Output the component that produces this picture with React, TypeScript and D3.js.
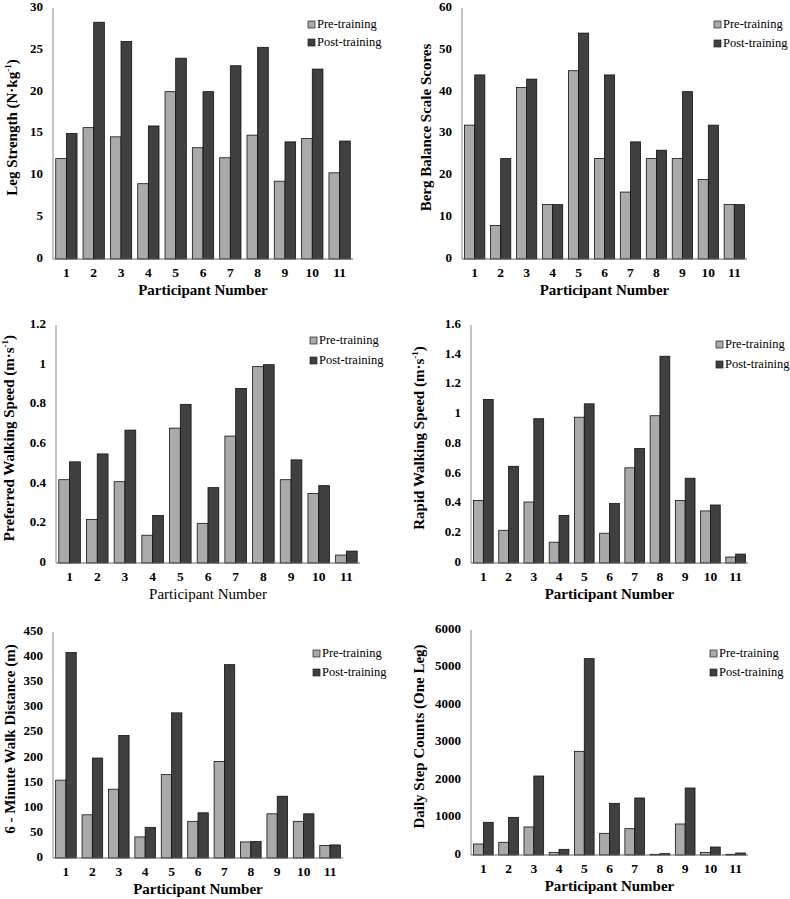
import React, { useRef, useEffect } from "react";
import * as d3 from "d3";

const participants = ["1", "2", "3", "4", "5", "6", "7", "8", "9", "10", "11"];
const seriesNames = ["Pre-training", "Post-training"];

const legPre = [12, 15.7, 14.6, 9, 20, 13.3, 12.1, 14.8, 9.3, 14.4, 10.3];
const legPost = [15, 28.3, 26, 15.9, 24, 20, 23.1, 25.3, 14, 22.7, 14.1];

const bergPre = [32, 8, 41, 13, 45, 24, 16, 24, 24, 19, 13];
const bergPost = [44, 24, 43, 13, 54, 44, 28, 26, 40, 32, 13];

const prefPre = [0.42, 0.22, 0.41, 0.14, 0.68, 0.2, 0.64, 0.99, 0.42, 0.35, 0.04];
const prefPost = [0.51, 0.55, 0.67, 0.24, 0.8, 0.38, 0.88, 1.0, 0.52, 0.39, 0.06];

const rapidPre = [0.42, 0.22, 0.41, 0.14, 0.98, 0.2, 0.64, 0.99, 0.42, 0.35, 0.04];
const rapidPost = [1.1, 0.65, 0.97, 0.32, 1.07, 0.4, 0.77, 1.39, 0.57, 0.39, 0.06];

const walkPre = [155, 86, 137, 42, 166, 73, 192, 32, 88, 73, 25];
const walkPost = [409, 199, 244, 61, 289, 90, 385, 33, 123, 88, 26];

const stepsPre = [293, 338, 747, 71, 2764, 578, 702, 18, 827, 71, 18];
const stepsPost = [871, 1004, 2107, 151, 5236, 1378, 1520, 36, 1787, 213, 53];

const colors = ["#aaaaaa", "#404040"];
const font = "Liberation Serif, serif";

function BarPanel({ pre, post, box, yMax, yStep, title, sup, titleX, legend, xBold = true }) {
  const ref = useRef(null);

  useEffect(() => {
    const g = d3.select(ref.current);
    g.selectAll("*").remove();

    const x = d3.scaleBand().domain(participants).range([box.left, box.right]).paddingInner(0.22).paddingOuter(0.1);
    const x1 = d3.scaleBand().domain(seriesNames).range([0, x.bandwidth()]);
    const y = d3.scaleLinear().domain([0, yMax]).range([box.bottom, box.top]);

    const data = participants.map((p, i) => ({ p, vals: [pre[i], post[i]] }));

    g.append("g")
      .selectAll("g")
      .data(data)
      .join("g")
      .attr("transform", (d) => `translate(${x(d.p)},0)`)
      .selectAll("rect")
      .data((d) => d.vals.map((v, k) => ({ v, k })))
      .join("rect")
      .attr("x", (d) => x1(seriesNames[d.k]))
      .attr("y", (d) => y(d.v))
      .attr("width", x1.bandwidth())
      .attr("height", (d) => box.bottom - y(d.v))
      .attr("fill", (d) => colors[d.k])
      .attr("stroke", "#111")
      .attr("stroke-width", 0.8);

    // axis lines
    g.append("line")
      .attr("x1", box.left).attr("x2", box.left)
      .attr("y1", box.top).attr("y2", box.bottom)
      .attr("stroke", "#888");
    g.append("line")
      .attr("x1", box.left).attr("x2", box.right)
      .attr("y1", box.bottom).attr("y2", box.bottom)
      .attr("stroke", "#666");

    const ticks = d3.range(0, yMax + yStep / 2, yStep);
    g.append("g")
      .selectAll("text")
      .data(ticks)
      .join("text")
      .attr("x", box.left - 10)
      .attr("y", (d) => y(d))
      .attr("text-anchor", "end")
      .attr("dominant-baseline", "middle")
      .attr("font-family", font)
      .attr("font-size", 13)
      .attr("font-weight", "bold")
      .text((d) => d3.format("~g")(+d.toFixed(2)));

    g.append("g")
      .selectAll("text")
      .data(participants)
      .join("text")
      .attr("x", (d) => x(d) + x.bandwidth() / 2)
      .attr("y", box.bottom + 15)
      .attr("text-anchor", "middle")
      .attr("dominant-baseline", "middle")
      .attr("font-family", font)
      .attr("font-size", 13.5)
      .attr("font-weight", "bold")
      .text((d) => d);

    g.append("text")
      .attr("x", (box.left + box.right) / 2)
      .attr("y", box.bottom + 36)
      .attr("text-anchor", "middle")
      .attr("font-family", font)
      .attr("font-size", 15)
      .attr("font-weight", xBold ? "bold" : "normal")
      .text("Participant Number");

    const cy = (box.top + box.bottom) / 2 - 6;
    const t = g.append("text")
      .attr("transform", `translate(${titleX},${cy}) rotate(-90)`)
      .attr("text-anchor", "middle")
      .attr("dominant-baseline", "middle")
      .attr("font-family", font)
      .attr("font-size", 15)
      .attr("font-weight", "bold");
    t.append("tspan").text(title);
    if (sup) {
      t.append("tspan").attr("dy", -5).attr("font-size", 9).text(sup);
      t.append("tspan").attr("dy", 5).text(")");
    }

    // legend
    const lg = g.append("g").attr("transform", `translate(${legend.x},${legend.y})`);
    seriesNames.forEach((s, k) => {
      const row = lg.append("g").attr("transform", `translate(0,${k * legend.gap})`);
      row.append("rect")
        .attr("x", 0).attr("y", -4)
        .attr("width", 7).attr("height", 7)
        .attr("fill", colors[k])
        .attr("stroke", "#222")
        .attr("stroke-width", 0.7);
      row.append("text")
        .attr("x", 9)
        .attr("y", 0)
        .attr("dominant-baseline", "middle")
        .attr("font-family", font)
        .attr("font-size", 12.5)
        .text(s);
    });
  }, [pre, post]);

  return <g ref={ref} />;
}

export default function App() {
  return (
    <svg
      width={790}
      height={899}
      style={{ position: "absolute", left: 0, top: 0, background: "#fff" }}
    >
      <BarPanel pre={legPre} post={legPost} box={{ left: 53, right: 353, top: 8, bottom: 259 }}
        yMax={30} yStep={5} title="Leg Strength (N·kg" sup="-1" titleX={14}
        legend={{ x: 308, y: 25, gap: 18 }} />
      <BarPanel pre={bergPre} post={bergPost} box={{ left: 462, right: 747, top: 8, bottom: 259 }}
        yMax={60} yStep={10} title="Berg Balance Scale Scores" titleX={428}
        legend={{ x: 714, y: 25, gap: 19 }} />
      <BarPanel pre={prefPre} post={prefPost} box={{ left: 56, right: 360, top: 325, bottom: 563 }}
        yMax={1.2} yStep={0.2} title="Preferred Walking Speed (m·s" sup="-1" titleX={11}
        legend={{ x: 310, y: 341, gap: 20 }} xBold={false} />
      <BarPanel pre={rapidPre} post={rapidPost} box={{ left: 471, right: 748, top: 325, bottom: 563 }}
        yMax={1.6} yStep={0.2} title="Rapid Walking Speed (m·s" sup="-1" titleX={421}
        legend={{ x: 716, y: 345, gap: 20 }} />
      <BarPanel pre={walkPre} post={walkPost} box={{ left: 53, right: 343, top: 632, bottom: 858 }}
        yMax={450} yStep={50} title="6 - Minute Walk Distance (m)" titleX={12}
        legend={{ x: 313, y: 654, gap: 19 }} />
      <BarPanel pre={stepsPre} post={stepsPost} box={{ left: 471, right: 748, top: 630, bottom: 855 }}
        yMax={6000} yStep={1000} title="Daily Step Counts (One Leg)" titleX={421}
        legend={{ x: 710, y: 654, gap: 19 }} />
    </svg>
  );
}
